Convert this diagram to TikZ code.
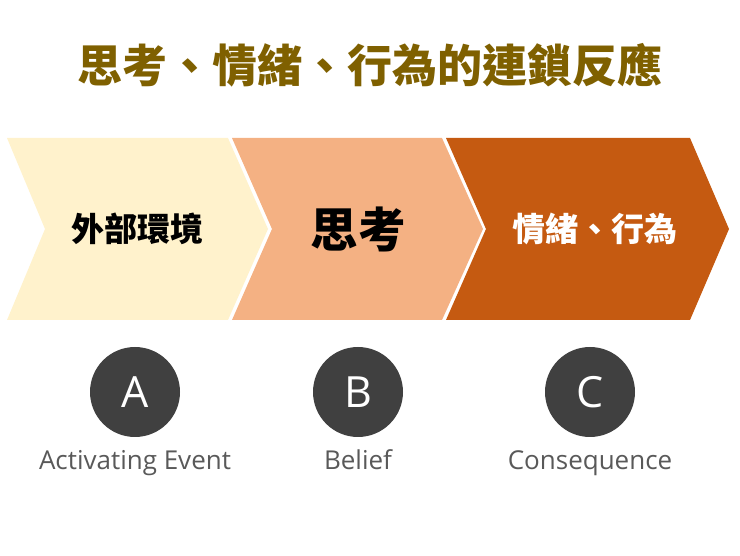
\documentclass[tikz,border=0pt]{standalone}
\usepackage{fontspec}
\setmainfont{Open Sans}
\newfontfamily\cjk{Noto Sans CJK TC}
\usetikzlibrary{positioning}
\definecolor{titlegold}{HTML}{7F6000}
\definecolor{paleyellow}{HTML}{FFF2CC}
\definecolor{salmon}{HTML}{F4B183}
\definecolor{rust}{HTML}{C55A11}
\definecolor{circlegray}{HTML}{404040}
\definecolor{labelgray}{HTML}{595959}
\begin{document}
\begin{tikzpicture}[x=1pt,y=-1pt,
  chevtext/.style={font=\cjk\bfseries\fontsize{33}{33}\selectfont},
  letter/.style={circle,fill=circlegray,minimum size=90pt,inner sep=0pt,
    text=white,font=\fontsize{43}{43}\selectfont},
  caption/.style={text=labelgray,anchor=base,font=\fontsize{26}{26}\selectfont}]
  \useasboundingbox (0,0) rectangle (740,556);
  \node[text=titlegold,font=\cjk\bfseries\fontsize{45}{45}\selectfont]
    (title) at (370,65) {思考、情緒、行為的連鎖反應};
  % the three chevrons
  \fill[paleyellow] (7,138) -- (228,138) -- (268,229) -- (228,320)
    -- (7,320) -- (45,229) -- cycle;
  \fill[salmon] (232,138) -- (442,138) -- (483,229) -- (442,320)
    -- (232,320) -- (272,229) -- cycle;
  \fill[rust] (446,138) -- (690,138) -- (729,229) -- (690,320)
    -- (446,320) -- (486,229) -- cycle;
  \node[chevtext] (event) at (137,229) {外部環境};
  \node[chevtext,font=\cjk\bfseries\fontsize{47.5}{47.5}\selectfont]
    (belief) at (358,229) {思考};
  \node[chevtext,text=white] (emotion) at (595,229) {情緒、行為};
  % A B C
  \foreach \n/\x/\t in
    {A/135/Activating Event, B/358/Belief, C/590/Consequence}
  {
    \node[letter] (\n) at (\x,392) {\n};
    \node[caption] (\n-text) at (\x,470) {\t};
  }
\end{tikzpicture}
\end{document}
